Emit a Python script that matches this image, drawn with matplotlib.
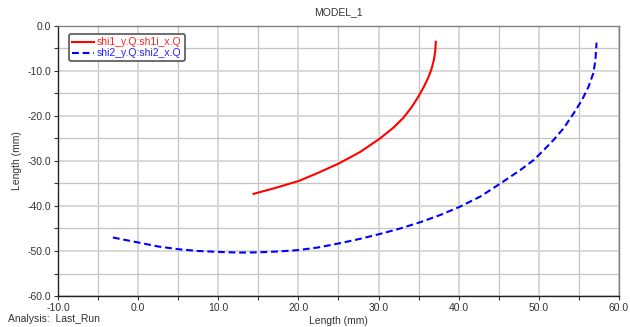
import numpy as np
import matplotlib.pyplot as plt
from matplotlib.ticker import MultipleLocator

plt.rcParams['font.family'] = ['Liberation Sans', 'DejaVu Sans']

# red curve: shi1_y.Q vs shi1i_x.Q
shi1_x = [14.4, 17.2, 20.1, 22.5, 25.1, 27.7, 30.1, 31.85, 33.1, 34.1,
          34.9, 35.6, 36.2, 36.6, 36.9, 37.08, 37.15]
shi1_y = [-37.3, -35.95, -34.4, -32.6, -30.5, -28.0, -25.1, -22.6, -20.4, -18.1,
          -15.9, -13.7, -11.5, -9.6, -7.6, -5.5, -3.5]

# blue curve: shi2_y.Q vs shi2_x.Q
shi2_x = [-3.15, 0.0, 2.5, 5.0, 7.5, 10.0, 12.5, 15.0, 17.5, 20.0, 22.5,
          25.1, 27.7, 30.2, 32.7, 35.2, 37.7, 40.1, 42.7, 45.2, 47.7,
          49.35, 50.6, 51.85, 53.1, 54.35, 55.4, 56.2, 56.8, 57.06, 57.2]
shi2_y = [-47.0, -48.1, -49.0, -49.6, -50.0, -50.2, -50.35, -50.3, -50.1, -49.8, -49.2,
          -48.3, -47.3, -46.2, -45.0, -43.6, -42.0, -40.2, -37.9, -35.0, -32.0,
          -29.8, -27.6, -25.3, -22.7, -19.4, -16.4, -13.5, -10.5, -7.6, -3.7]

fig = plt.figure(figsize=(6.3, 3.27), dpi=100)
ax = fig.add_axes([0.092, 0.0948, 0.8905, 0.8257])

ax.plot(shi1_x, shi1_y, color="#ff0000", linewidth=1.5, label="shi1_y.Q:sh1i_x.Q")
ax.plot(shi2_x, shi2_y, color="#0000ff", linewidth=1.5, linestyle=(0, (3.3, 1.8)),
        label="shi2_y.Q:shi2_x.Q")

ax.set_xlim(-10, 60)
ax.set_ylim(-60, 0)
ax.xaxis.set_major_locator(MultipleLocator(10))
ax.yaxis.set_major_locator(MultipleLocator(10))
ax.xaxis.set_minor_locator(MultipleLocator(5))
ax.yaxis.set_minor_locator(MultipleLocator(5))
ax.xaxis.set_major_formatter(lambda v, p: f"{v:.1f}")
ax.yaxis.set_major_formatter(lambda v, p: f"{v:.1f}")

ax.grid(True, which="major", color="#d6d6d6", linewidth=1.3)
ax.grid(True, which="minor", color="#c4c4c4", linewidth=0.9)
ax.set_axisbelow(True)

ax.tick_params(which="both", direction="out", length=3, width=0.8,
               labelsize=7.5, colors="#333333", pad=2)
for side in ["top", "right"]:
    ax.spines[side].set_color("#808080")
    ax.spines[side].set_linewidth(1.0)
for side in ["left", "bottom"]:
    ax.spines[side].set_color("#222222")
    ax.spines[side].set_linewidth(1.0)

ax.set_xlabel("Length (mm)", fontsize=7.5, color="#333333", labelpad=2)
ax.set_ylabel("Length (mm)", fontsize=7.5, color="#333333", labelpad=4)
ax.set_title("MODEL_1", fontsize=7.5, color="#333333", pad=8)
fig.text(0.013, 0.014, "Analysis:  Last_Run", fontsize=7.5, color="#333333")

leg = ax.legend(loc="upper left", bbox_to_anchor=(0.0196, 0.97), fontsize=7.5,
                handlelength=2.1, handletextpad=0.3, borderpad=0.3,
                labelspacing=0.1, borderaxespad=0, fancybox=True, framealpha=1)
leg.get_frame().set_edgecolor("#555555")
leg.get_frame().set_linewidth(1.2)
for txt, col in zip(leg.get_texts(), ["#ff2222", "#2222ff"]):
    txt.set_color(col)

fig.savefig("out.png", dpi=100)
